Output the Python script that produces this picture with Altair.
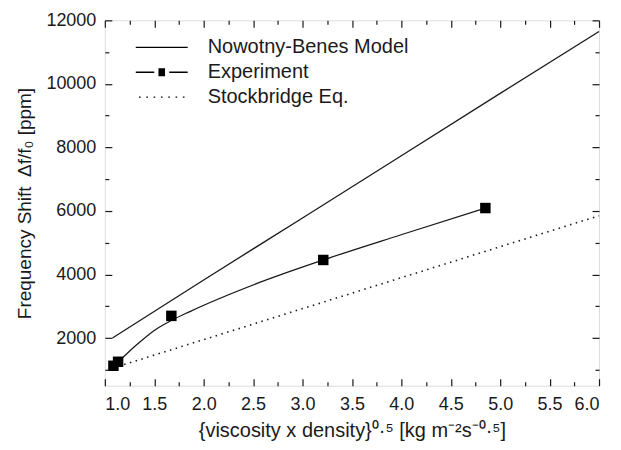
import altair as alt
import pandas as pd

# ---------------- data ----------------
series = ["Nowotny-Benes Model", "Experiment", "Stockbridge Eq."]

nb_x = [1.077, 2.0, 3.0, 4.0, 5.0, 6.0]
nb_y = [2000, 3830, 5780, 7740, 9700, 11650]

sb_x = [1.08, 6.0]
sb_y = [1055, 5850]

exp_x = [1.087, 1.134, 1.673, 3.21, 4.85]
exp_y = [1128, 1254, 2699, 4458, 6092]

fit_x = [1.087, 1.134, 1.33, 1.50, 1.667, 1.86, 2.54, 3.21, 3.99, 4.85]
fit_y = [1128, 1254, 1810, 2240, 2545, 2835, 3720, 4458, 5244, 6092]

x_major = [1.0, 1.5, 2.0, 2.5, 3.0, 3.5, 4.0, 4.5, 5.0, 5.5, 6.0]
x_minor = [1.25, 1.75, 2.25, 2.75, 3.25, 3.75, 4.25, 4.75, 5.25, 5.75]
y_major = [2000, 4000, 6000, 8000, 10000, 12000]
y_minor = [1000, 3000, 5000, 7000, 9000, 11000]

x_title = "{viscosity x density}⁰·⁵ [kg m⁻²s⁻⁰·⁵]"
y_title = "Frequency Shift\u2002Δf/f₀ [ppm]"

# ---------------- styling ----------------
INK = "#1a1a1a"
FONT = "Liberation Sans"
W, H = 495, 366

xscale = alt.Scale(domain=[1.0, 6.0], nice=False, zero=False)
yscale = alt.Scale(domain=[500, 12000], nice=False, zero=False)


def tick_axis(orient, values, size):
    return alt.Axis(orient=orient, values=values, labels=False, ticks=True,
                    tickSize=size, offset=-size, domain=False, grid=False,
                    tickColor=INK, tickWidth=1.2, title=None)


lab_x = alt.Axis(orient="bottom", values=x_major, format=".1f", ticks=False,
                 tickSize=0, domain=False, grid=False, labelPadding=10,
                 labelFontSize=18, labelFont=FONT, labelColor=INK,
                 title=x_title, titleFont=FONT, titleFontSize=20,
                 titleFontWeight="normal", titleColor=INK, titlePadding=7)
lab_y = alt.Axis(orient="left", values=y_major, format="d", ticks=False,
                 tickSize=0, domain=False, grid=False, labelPadding=9,
                 labelFontSize=18, labelFont=FONT, labelColor=INK,
                 title=y_title, titleFont=FONT, titleFontSize=19,
                 titleFontWeight="normal", titleColor=INK, titlePadding=11)

nb_df = pd.DataFrame({"x": nb_x, "y": nb_y})
sb_df = pd.DataFrame({"x": sb_x, "y": sb_y})
fit_df = pd.DataFrame({"x": fit_x, "y": fit_y})
exp_df = pd.DataFrame({"x": exp_x, "y": exp_y})
leg_df = pd.DataFrame({"x": [None] * 3, "y": [None] * 3, "series": series})

nb = alt.Chart(nb_df).mark_line(color=INK, strokeWidth=1.3).encode(
    x=alt.X("x:Q", scale=xscale, axis=lab_x),
    y=alt.Y("y:Q", scale=yscale, axis=lab_y),
)
sb = alt.Chart(sb_df).mark_line(color=INK, strokeWidth=1.6,
                                 strokeDash=[1.5, 4.5]).encode(
    x=alt.X("x:Q", scale=xscale, axis=tick_axis("bottom", x_major, 7)),
    y=alt.Y("y:Q", scale=yscale, axis=tick_axis("left", y_major, 7)),
)
fit = alt.Chart(fit_df).mark_line(color=INK, strokeWidth=1.3,
                                   interpolate="monotone").encode(
    x=alt.X("x:Q", scale=xscale, axis=tick_axis("bottom", x_minor, 4)),
    y=alt.Y("y:Q", scale=yscale, axis=tick_axis("left", y_minor, 4)),
)
pts = alt.Chart(exp_df).mark_square(size=110, color="black", opacity=1).encode(
    x=alt.X("x:Q", scale=xscale, axis=tick_axis("top", x_major, 7)),
    y=alt.Y("y:Q", scale=yscale, axis=tick_axis("right", y_major, 7)),
)

# legend symbols: stroked custom paths in a unit space (r = 10 px)
line_path = "M-2.6,0H2.6"
square_fill = "".join(f"M-0.33,{-0.33 + k * 0.066:.3f}H0.33" for k in range(11))
exp_path = "M-2.6,0H-0.75M0.75,0H2.6" + square_fill
dot_path = "".join(
    f"M{-2.2 + i * 0.733 - 0.08:.3f},0H{-2.2 + i * 0.733 + 0.08:.3f}" for i in range(7)
)

leg = alt.Chart(leg_df).mark_point(filled=False, color="black",
                                   strokeWidth=1.3, opacity=1).encode(
    x=alt.X("x:Q", scale=xscale, axis=tick_axis("top", x_minor, 4)),
    y=alt.Y("y:Q", scale=yscale, axis=tick_axis("right", y_minor, 4)),
    shape=alt.Shape("series:N",
                    scale=alt.Scale(domain=series,
                                    range=[line_path, exp_path, dot_path]),
                    legend=alt.Legend(orient="none", legendX=46, legendY=16,
                                      title=None, padding=0, symbolSize=400,
                                      symbolStrokeWidth=1.3,
                                      symbolStrokeColor="black",
                                      labelFont=FONT, labelFontSize=20,
                                      labelColor=INK, labelOffset=35,
                                      rowPadding=4, labelLimit=400)),
)

chart = alt.layer(nb, sb, fit, pts, leg).resolve_axis(
    x="independent", y="independent"
).properties(
    width=W, height=H,
    autosize=alt.AutoSizeParams(type="none"),
    padding={"left": 97, "top": 12, "right": 14, "bottom": 56},
).configure_view(stroke=INK, strokeWidth=1.3).configure(background="white")

chart.save("out.html", embed_options={"renderer": "svg", "actions": False})
